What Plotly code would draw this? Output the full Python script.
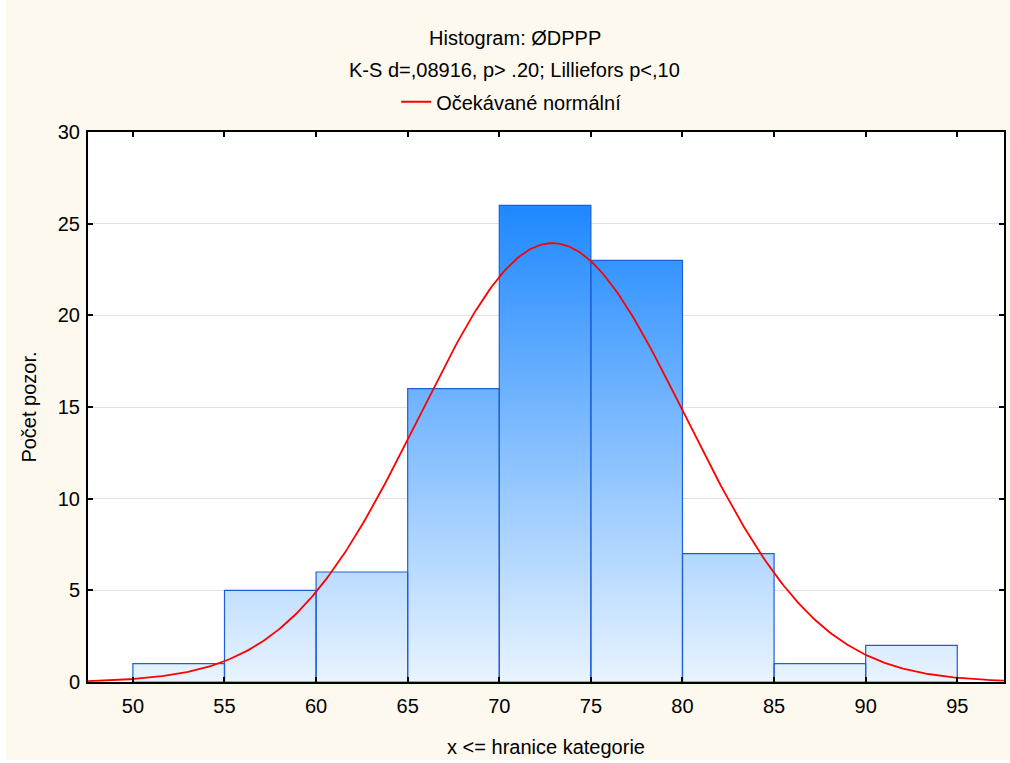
import numpy as np
import plotly.graph_objects as go

# Histogram data: bin edges (upper bounds, x <= edge) and counts
bin_edges = [50, 55, 60, 65, 70, 75, 80, 85, 90, 95]
counts = [1, 5, 6, 16, 26, 23, 7, 1, 2]

# Parameters of the expected normal curve
n_obs = 87
mean_val = 72.9
sd_val = 7.25
bin_width = 5

x_ticks = [50, 55, 60, 65, 70, 75, 80, 85, 90, 95]
y_ticks = [0, 5, 10, 15, 20, 25, 30]

FONT = "Liberation Sans, Arial, sans-serif"
CREAM = "#FDF9EF"

# Bars as closed polygons so they can share one vertical gradient fill
bx, by = [], []
for i, c in enumerate(counts):
    x0, x1 = bin_edges[i], bin_edges[i + 1]
    bx += [x0, x0, x1, x1, x0, None]
    by += [0, c, c, 0, 0, None]

fig = go.Figure()
fig.add_trace(go.Scatter(
    x=bx, y=by, mode="lines", fill="toself",
    line=dict(color="#1F5FD6", width=1.2),
    fillgradient=dict(type="vertical",
                      colorscale=[[0, "#E9F4FF"], [1, "#1E88FF"]],
                      start=0, stop=max(counts)),
    showlegend=False, hoverinfo="skip",
))

xs = np.linspace(47.55, 97.55, 400)
ys = n_obs * bin_width / (sd_val * np.sqrt(2 * np.pi)) * np.exp(-0.5 * ((xs - mean_val) / sd_val) ** 2)
fig.add_trace(go.Scatter(
    x=xs, y=ys, mode="lines", name="Očekávané normální",
    line=dict(color="#FF0000", width=1.8),
))

fig.update_layout(
    width=1010, height=763,
    margin=dict(l=88, r=4, t=132, b=81),
    paper_bgcolor=CREAM, plot_bgcolor="white",
    font=dict(family=FONT, size=20, color="black"),
    showlegend=True,
    legend=dict(orientation="h", x=0.462, xanchor="center", y=1.055, yanchor="middle",
                bgcolor="rgba(0,0,0,0)", font=dict(size=20)),
    annotations=[
        dict(text="Histogram: ØDPPP", xref="paper", yref="paper",
             x=0.466, y=(682 - 38) / 550, xanchor="center", yanchor="middle",
             showarrow=False, font=dict(size=20)),
        dict(text="K-S d=,08916, p> .20; Lilliefors p<,10", xref="paper", yref="paper",
             x=0.466, y=(682 - 70) / 550, xanchor="center", yanchor="middle",
             showarrow=False, font=dict(size=20)),
    ],
    shapes=[
        # thin white page margin on the left and bottom
        dict(type="rect", xref="paper", yref="paper", x0=-0.2, x1=(6 - 88) / 918,
             y0=-0.3, y1=1.4, fillcolor="white", line=dict(width=0), layer="below"),
        dict(type="rect", xref="paper", yref="paper", x0=-0.2, x1=1.2,
             y0=-0.3, y1=(682 - 760) / 550, fillcolor="white", line=dict(width=0), layer="below"),
    ],
    xaxis=dict(
        range=[47.55, 97.55], tickvals=x_ticks, ticktext=[str(v) for v in x_ticks],
        showgrid=False, zeroline=False,
        showline=True, linecolor="black", linewidth=2, mirror="ticks",
        ticks="inside", ticklen=5, tickwidth=2, tickcolor="black",
        tickfont=dict(size=20), ticklabelstandoff=5,
        title=dict(text="x <= hranice kategorie", font=dict(size=20), standoff=24),
    ),
    yaxis=dict(
        range=[0, 30], tickvals=y_ticks,
        showgrid=True, gridcolor="#E2E2E2", gridwidth=1, zeroline=False,
        showline=True, linecolor="black", linewidth=2, mirror="ticks",
        ticks="inside", ticklen=5, tickwidth=2, tickcolor="black",
        tickfont=dict(size=20), ticklabelstandoff=2,
        title=dict(text="Počet pozor.", font=dict(size=20), standoff=16),
    ),
)

fig.write_html("out.html")
